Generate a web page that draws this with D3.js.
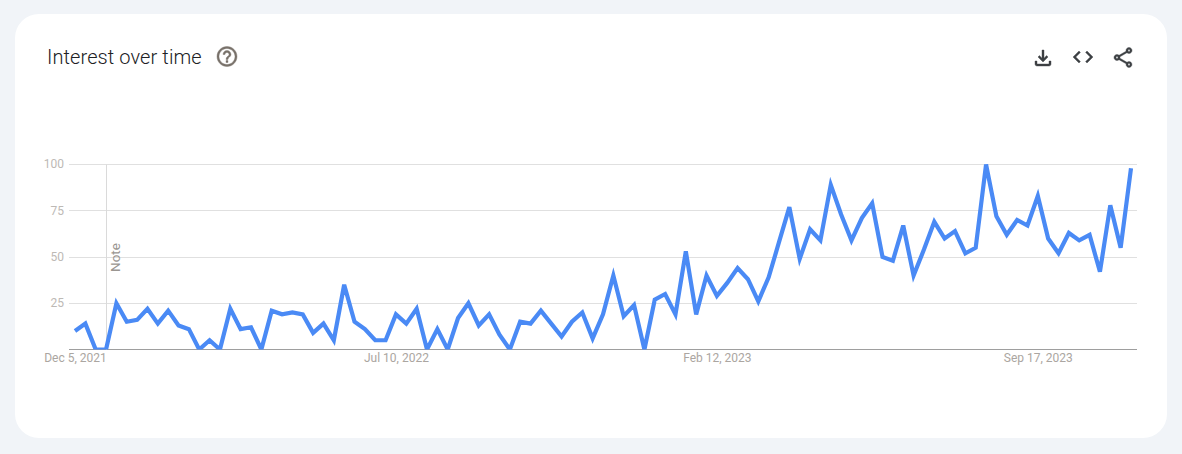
<!DOCTYPE html>
<html>
<head>
<meta charset="utf-8">
<script src="https://cdn.jsdelivr.net/npm/d3@7"></script>
<style>
    html, body { margin: 0; padding: 0; background: #f1f4f8; overflow: hidden; }
    svg { display: block; }
    text { font-family: Roboto, sans-serif; }
    .domain { display: none; }
</style>
</head>
<body>
<script>
// Weekly interest values, starting from the first date below.
var startDate = "2021-12-05";
var interest = [
    10, 14, 0, 0, 25, 15, 16, 22, 14, 21, 13, 11, 0, 5, 0, 22, 11, 12, 0, 21,
    19, 20, 19, 9, 14, 5, 35, 15, 11, 5, 5, 19, 14, 22, 0, 11, 0, 17, 25, 13,
    19, 8, 0, 15, 14, 21, 14, 7, 15, 20, 6, 19, 40, 18, 24, 0, 27, 30, 19, 53,
    19, 40, 29, 36, 44, 38, 26, 39, 58, 77, 49, 65, 59, 89, 73, 59, 71, 79, 50, 48,
    67, 40, 54, 69, 60, 64, 52, 55, 100, 72, 62, 70, 67, 83, 60, 52, 63, 59, 62, 42,
    78, 55, 98
];
var yTicks = [0, 25, 50, 75, 100];
var xTickDates = ["2021-12-05", "2022-07-10", "2023-02-12", "2023-09-17"];
var xTickLabels = ["Dec 5, 2021", "Jul 10, 2022", "Feb 12, 2023", "Sep 17, 2023"];
var noteDate = "2021-12-26";

// Material icon outlines for the header.
var helpIcon = "M11 18h2v-2h-2v2zm1-16C6.48 2 2 6.48 2 12s4.48 10 10 10 10-4.48 10-10S17.52 2 12 2zm0 18c-4.41 0-8-3.59-8-8s3.59-8 8-8 8 3.59 8 8-3.59 8-8 8zm0-14c-2.21 0-4 1.79-4 4h2c0-1.1.9-2 2-2s2 .9 2 2c0 2-3 1.75-3 5h2c0-2.25 3-2.5 3-5 0-2.21-1.79-4-4-4z";
var downloadIcon = "M18 15v3H6v-3H4v3c0 1.1.9 2 2 2h12c1.1 0 2-.9 2-2v-3h-2zm-1-4l-1.41-1.41L13 12.17V4h-2v8.17L8.41 9.59 7 11l5 5 5-5z";
var embedIcon = "M9.4 16.6L4.8 12l4.6-4.6L8 6l-6 6 6 6 1.4-1.4zm5.2 0l4.6-4.6-4.6-4.6L16 6l6 6-6 6-1.4-1.4z";
var shareIcon = "M18 16.08c-.76 0-1.44.3-1.96.77L8.91 12.7c.05-.23.09-.46.09-.7s-.04-.47-.09-.7l7.05-4.11c.54.5 1.25.81 2.04.81 1.66 0 3-1.34 3-3s-1.34-3-3-3-3 1.34-3 3c0 .24.04.47.09.7L8.04 9.81C7.5 9.31 6.79 9 6 9c-1.66 0-3 1.34-3 3s1.34 3 3 3c.79 0 1.5-.31 2.04-.81l7.12 4.16c-.05.21-.08.43-.08.65 0 1.61 1.31 2.92 2.92 2.92 1.61 0 2.92-1.31 2.92-2.92s-1.31-2.92-2.92-2.92zM18 4c.55 0 1 .45 1 1s-.45 1-1 1-1-.45-1-1 .45-1 1-1zM6 13c-.55 0-1-.45-1-1s.45-1 1-1 1 .45 1 1-.45 1-1 1zm12 7.02c-.55 0-1-.45-1-1s.45-1 1-1 1 .45 1 1-.45 1-1 1z";

// Setup plot size.
var plotWidth = 1182;
var plotHeight = 454;
var plotLeft = 69;
var plotRight = 1137;
var plotTop = 164.5;
var plotBottom = 349.5;

var parseTime = d3.timeParse("%Y-%m-%d");

var dataset = interest.map(function (d, i) {
    return { date: d3.timeWeek.offset(parseTime(startDate), i), value: d };
});

// Setup plot scales. The range is set so the first point lands 6px inside the plot.
var xScale = d3.scaleTime()
               .domain([dataset[0].date, dataset[dataset.length - 1].date])
               .range([75, 1131]);

var yScale = d3.scaleLinear()
               .domain([0, 100])
               .range([plotBottom, plotTop]);

var svg = d3.select("body").append("svg")
            .attr("width", plotWidth)
            .attr("height", plotHeight);

// White card behind everything.
svg.append("rect")
   .attr("x", 15)
   .attr("y", 14)
   .attr("width", 1152)
   .attr("height", 424)
   .attr("rx", 24)
   .attr("fill", "#ffffff");

// Header.
svg.append("text")
   .attr("x", 47)
   .attr("y", 64)
   .attr("font-size", 20)
   .attr("font-weight", 300)
   .attr("letter-spacing", 0.1)
   .attr("fill", "#202124")
   .text("Interest over time");

function addIcon (path, x, y, color) {
    svg.append("path")
       .attr("d", path)
       .attr("transform", "translate(" + x + ", " + y + ")")
       .attr("fill", color)
       .attr("stroke", color)
       .attr("stroke-width", 0.4);
}
addIcon(helpIcon, 215, 44.5, "#78716a");
addIcon(downloadIcon, 1031, 46, "#3c4043");
addIcon(embedIcon, 1071, 45, "#3c4043");
addIcon(shareIcon, 1111, 45.5, "#3c4043");

// Y axis with full width grid lines.
var yAxis = d3.axisLeft(yScale)
              .tickValues(yTicks)
              .tickSize(plotRight - plotLeft)
              .tickPadding(5)
              .offset(0);

var yGroup = svg.append("g")
                .attr("class", "y_axis")
                .attr("transform", "translate(" + plotRight + ", 0)")
                .call(yAxis);
yGroup.selectAll(".tick line")
      .attr("shape-rendering", "crispEdges")
      .attr("stroke", function (d) { return d === 0 ? "#9e9e9e" : "#e0e0e0"; });
yGroup.selectAll(".tick text")
      .attr("font-size", 12)
      .attr("fill", "#bdb9b5")
      .text(function (d) { return d === 0 ? "" : d; });

// X axis with labels only.
var xAxis = d3.axisBottom(xScale)
              .tickValues(xTickDates.map(parseTime))
              .tickSize(0)
              .tickPadding(4)
              .tickFormat(function (d, i) { return xTickLabels[i]; });

var xGroup = svg.append("g")
                .attr("class", "x_axis")
                .attr("transform", "translate(0, " + plotBottom + ")")
                .call(xAxis);
xGroup.selectAll(".tick text")
      .attr("font-size", 12)
      .attr("fill", "#aba6a1");

// Note marker.
var noteX = Math.round(xScale(parseTime(noteDate))) + 0.5;
svg.append("line")
   .attr("x1", noteX)
   .attr("x2", noteX)
   .attr("y1", plotTop)
   .attr("y2", plotBottom)
   .attr("stroke", "#dadada");

svg.append("text")
   .attr("transform", "translate(" + (noteX + 13.5) + ", 272) rotate(-90)")
   .attr("font-size", 13.5)
   .attr("fill", "#9a9691")
   .text("Note");

// The line is clipped at the plot edges, so peaks at 0 and 100 are cut flat.
svg.append("clipPath")
   .attr("id", "plot-clip")
   .append("rect")
   .attr("x", plotLeft)
   .attr("y", plotTop - 1)
   .attr("width", plotRight - plotLeft)
   .attr("height", plotBottom - plotTop + 1);

var line = d3.line()
             .x(function (d) { return xScale(d.date); })
             .y(function (d) { return yScale(d.value); });

svg.append("path")
   .datum(dataset)
   .attr("class", "line")
   .attr("clip-path", "url(#plot-clip)")
   .attr("fill", "none")
   .attr("stroke", "#4a8af5")
   .attr("stroke-width", 4.2)
   .attr("d", line);
</script>
</body>
</html>
